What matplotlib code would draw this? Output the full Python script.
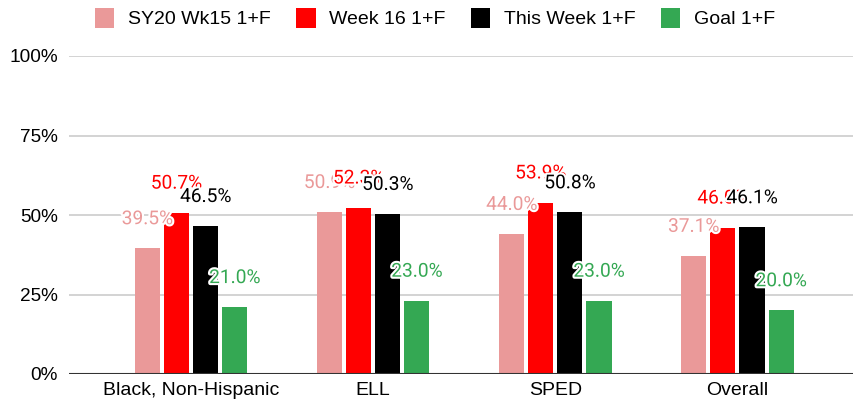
import numpy as np
import matplotlib
matplotlib.use("Agg")
import matplotlib.pyplot as plt
import matplotlib.patheffects as pe
from matplotlib.patches import Patch

# данные
categories = ["Black, Non-Hispanic", "ELL", "SPED", "Overall"]
series_names = ["SY20 Wk15 1+F", "Week 16 1+F", "This Week 1+F", "Goal 1+F"]
wk15 = [39.5, 50.9, 44.0, 37.1]
wk16 = [50.7, 52.3, 53.9, 46.0]
this_week = [46.5, 50.3, 50.8, 46.1]
goal = [21.0, 23.0, 23.0, 20.0]
y_ticks = [0, 25, 50, 75, 100]
y_tick_labels = ["0%", "25%", "50%", "75%", "100%"]

colors = ["#ea9999", "#ff0000", "#000000", "#34a853"]

plt.rcParams['font.family'] = ['Liberation Sans', 'DejaVu Sans']

fig = plt.figure(figsize=(8.54, 4.03), dpi=100)
ax = fig.add_axes([69 / 854, 1 - 374 / 403, 1 - 69 / 854, (374 - 56) / 403])

x = np.arange(len(categories))
pitch = 0.16
width = 0.138
all_series = [wk15, wk16, this_week, goal]

for i, (vals, col) in enumerate(zip(all_series, colors)):
    offs = (i - 1.5) * pitch
    ax.bar(x + offs, vals, width=width, color=col, zorder=2)

# подписи рисуем после столбцов, чтобы шли поверх в порядке серий
for i, (vals, col) in enumerate(zip(all_series, colors)):
    offs = (i - 1.5) * pitch
    for xi, v in zip(x, vals):
        t = ax.annotate(f"{v:.1f}%", (xi + offs, v), xytext=(0, 21),
                        textcoords="offset points", ha="center", va="center",
                        color=col, fontsize=13.8, family=["Roboto", "DejaVu Sans"],
                        zorder=5 + i)
        t.set_path_effects([pe.withStroke(linewidth=3, foreground="white")])

ax.set_xlim(-0.67, 3.64)
ax.set_ylim(0, 100)
ax.set_yticks(y_ticks)
ax.set_yticklabels(y_tick_labels, fontsize=13.7)
ax.set_xticks(x)
ax.set_xticklabels(categories, fontsize=14)
ax.tick_params(length=0, pad=8)
ax.tick_params(axis="x", pad=6)
ax.yaxis.grid(True, color="#cccccc", linewidth=1.2, zorder=0)
ax.set_axisbelow(True)
for s in ax.spines.values():
    s.set_visible(False)
ax.axhline(0, color="#333333", linewidth=1.5, zorder=3)

handles = [Patch(facecolor=c, edgecolor="none") for c in colors]
fig.legend(handles, series_names, loc="center", bbox_to_anchor=(435 / 854, 1 - 18 / 403),
           ncol=4, frameon=False, fontsize=14, handlelength=1.0, handleheight=1.2,
           handletextpad=0.7, columnspacing=1.3)

fig.savefig("out.png", dpi=100)
